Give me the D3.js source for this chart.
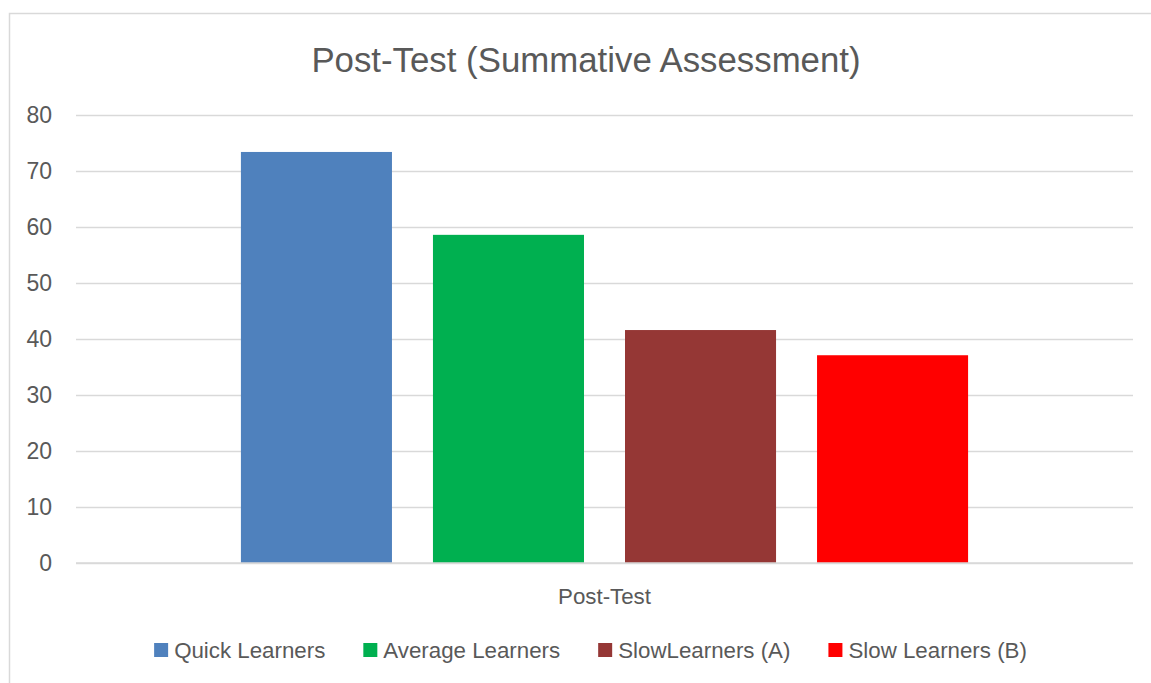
<!DOCTYPE html>
<html>
<head>
<meta charset="utf-8">
<script src="https://cdn.jsdelivr.net/npm/d3@7"></script>
<style>
  html, body { margin: 0; padding: 0; background: #fff; }
  svg { display: block; }
  text { font-family: "Liberation Sans", Arial, sans-serif; fill: #595959; }
</style>
</head>
<body>
<svg id="chart"></svg>
<script>
// chart data
const chartTitle = 'Post-Test (Summative Assessment)';
const categories = ['Post-Test'];
const seriesNames = ['Quick Learners', 'Average Learners', 'SlowLearners (A)', 'Slow Learners (B)'];
const seriesValues = [73.4, 58.6, 41.6, 37.1];
const yTicks = [0, 10, 20, 30, 40, 50, 60, 70, 80];

(function () {

    const width = 1151, height = 683;
    const plot = { left: 76, right: 1133, top: 115, bottom: 563 };

    const svg = d3.select('#chart')
        .attr('width', width)
        .attr('height', height);

    // chart frame (right and bottom edges run past the window)
    svg.append('rect')
        .attr('x', 9.5)
        .attr('y', 13.5)
        .attr('width', 1153)
        .attr('height', 690)
        .attr('fill', '#fff')
        .attr('stroke', '#d9d9d9')
        .attr('stroke-width', 1.5);

    svg.append('text')
        .attr('x', 586)
        .attr('y', 72)
        .attr('text-anchor', 'middle')
        .style('font-size', '34.8px')
        .text(chartTitle);

    const y = d3.scaleLinear()
        .domain([0, 80])
        .range([plot.bottom, plot.top]);

    const x0 = d3.scaleBand()
        .domain(categories)
        .range([plot.left, plot.right])
        .paddingInner(0)
        .paddingOuter(0.188);

    const x1 = d3.scaleBand()
        .domain(seriesNames)
        .range([0, x0.bandwidth()])
        .paddingInner(0.2135)
        .paddingOuter(0.2135 / 2);

    const color = d3.scaleOrdinal()
        .domain(seriesNames)
        .range(['#4f81bd', '#00b050', '#953735', '#ff0000']);

    // gridlines
    const yAxis = d3.axisLeft(y)
        .tickValues(yTicks)
        .tickSize(-(plot.right - plot.left))
        .tickPadding(24)
        .tickFormat(d3.format('d'));

    const gy = svg.append('g')
        .attr('transform', `translate(${plot.left},0)`)
        .call(yAxis);

    gy.select('.domain').remove();
    gy.selectAll('.tick line')
        .attr('stroke', '#d9d9d9')
        .attr('stroke-width', 1.5);
    gy.selectAll('.tick text')
        .attr('fill', '#595959')
        .style('font-size', '23px')
        .style('font-family', '"Liberation Sans", Arial, sans-serif');

    // bars
    const groups = svg.append('g')
        .selectAll('g')
        .data(categories)
        .join('g')
        .attr('transform', d => `translate(${x0(d)},0)`);

    groups.selectAll('rect')
        .data(() => seriesNames.map((name, i) => ({ name, value: seriesValues[i] })))
        .join('rect')
        .attr('x', d => x1(d.name))
        .attr('width', x1.bandwidth())
        .attr('y', d => y(d.value))
        .attr('height', d => y(0) - y(d.value))
        .attr('fill', d => color(d.name));

    // baseline
    svg.append('line')
        .attr('x1', plot.left)
        .attr('x2', plot.right)
        .attr('y1', y(0))
        .attr('y2', y(0))
        .attr('stroke', '#d9d9d9')
        .attr('stroke-width', 1.5);

    // category label
    svg.append('g')
        .selectAll('text')
        .data(categories)
        .join('text')
        .attr('x', d => x0(d) + x0.bandwidth() / 2)
        .attr('y', 604)
        .attr('text-anchor', 'middle')
        .style('font-size', '22.3px')
        .text(d => d);

    // legend
    const legend = svg.append('g');
    const swatch = 14, swatchGap = 6, itemGap = 38;
    let cursor = 0;
    const items = legend.selectAll('g')
        .data(seriesNames)
        .join('g');

    items.each(function (name) {
        const g = d3.select(this);
        g.append('rect')
            .attr('x', 0)
            .attr('y', -15)
            .attr('width', swatch)
            .attr('height', swatch)
            .attr('fill', color(name));
        const t = g.append('text')
            .attr('x', swatch + swatchGap)
            .attr('y', 0)
            .style('font-size', '22.3px')
            .text(name);
        const w = swatch + swatchGap + t.node().getComputedTextLength();
        g.attr('transform', `translate(${cursor},0)`);
        cursor += w + itemGap;
    });

    const legendWidth = cursor - itemGap;
    legend.attr('transform', `translate(${590.5 - legendWidth / 2},658)`);

})();
</script>
</body>
</html>
